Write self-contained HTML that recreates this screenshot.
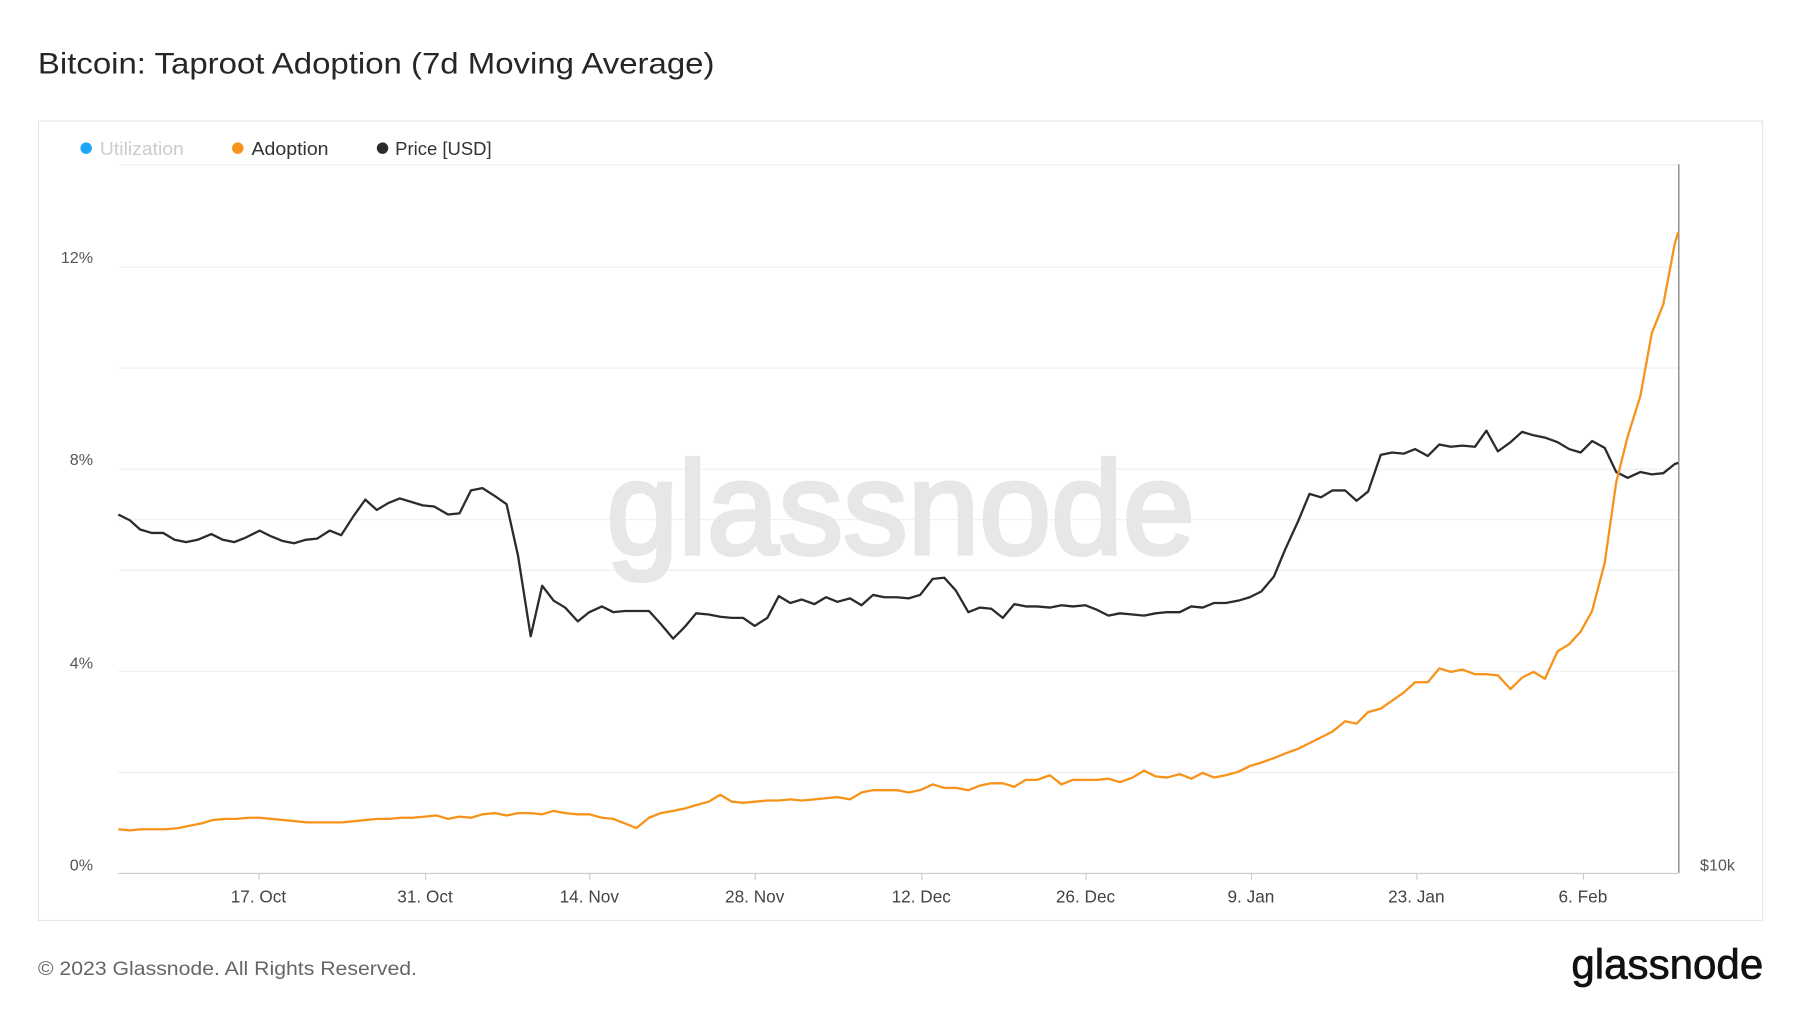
<!DOCTYPE html>
<html><head><meta charset="utf-8"><style>
html,body{margin:0;padding:0;background:#fff;width:1800px;height:1013px;overflow:hidden}
svg{display:block}
text{font-family:"Liberation Sans","DejaVu Sans",sans-serif}
</style></head><body>
<svg width="1800" height="1013" viewBox="0 0 1567 882" preserveAspectRatio="none" xmlns="http://www.w3.org/2000/svg">
<rect width="1567" height="882" fill="#fff"/>
<text x="33" y="64" font-size="26" fill="#262626" textLength="589" lengthAdjust="spacingAndGlyphs">Bitcoin: Taproot Adoption (7d Moving Average)</text>
<rect x="33.5" y="105.5" width="1501" height="696" fill="#fff" stroke="#e6e6e6"/>
<g stroke="#efefef" stroke-width="1">
<line x1="103" y1="143.5" x2="1461" y2="143.5"/>
<line x1="103" y1="232.5" x2="1461" y2="232.5"/>
<line x1="103" y1="320.5" x2="1461" y2="320.5"/>
<line x1="103" y1="408.5" x2="1461" y2="408.5"/>
<line x1="103" y1="452.5" x2="1461" y2="452.5"/>
<line x1="103" y1="496.5" x2="1461" y2="496.5"/>
<line x1="103" y1="584.5" x2="1461" y2="584.5"/>
<line x1="103" y1="672.5" x2="1461" y2="672.5"/>
</g>
<line x1="103" y1="760.5" x2="1461" y2="760.5" stroke="#ccc"/>
<g stroke="#ccc"><line x1="225.5" y1="760" x2="225.5" y2="766"/><line x1="370.5" y1="760" x2="370.5" y2="766"/><line x1="513.5" y1="760" x2="513.5" y2="766"/><line x1="657.5" y1="760" x2="657.5" y2="766"/><line x1="802.5" y1="760" x2="802.5" y2="766"/><line x1="945.5" y1="760" x2="945.5" y2="766"/><line x1="1089.5" y1="760" x2="1089.5" y2="766"/><line x1="1233.5" y1="760" x2="1233.5" y2="766"/><line x1="1378.5" y1="760" x2="1378.5" y2="766"/></g>
<text x="528" y="482" font-size="115" fill="#e7e7e7" stroke="#e7e7e7" stroke-width="3.5" textLength="512" lengthAdjust="spacingAndGlyphs">glassnode</text>
<g font-size="14" fill="#555" text-anchor="end">
<text x="81" y="229">12%</text><text x="81" y="405">8%</text><text x="81" y="582">4%</text><text x="81" y="758">0%</text>
</g>
<text x="1480" y="758" font-size="14" fill="#555">$10k</text>
<g font-size="15" fill="#444" text-anchor="middle">
<text x="225" y="786">17. Oct</text><text x="370" y="786">31. Oct</text><text x="513" y="786">14. Nov</text><text x="657" y="786">28. Nov</text><text x="802" y="786">12. Dec</text><text x="945" y="786">26. Dec</text><text x="1089" y="786">9. Jan</text><text x="1233" y="786">23. Jan</text><text x="1378" y="786">6. Feb</text>
</g>
<line x1="1461.5" y1="143" x2="1461.5" y2="760" stroke="#888" stroke-width="1.2"/>
<g font-size="16">
<circle cx="75" cy="129" r="5" fill="#1fa5f5"/><text x="87" y="135" fill="#ccc" textLength="73" lengthAdjust="spacingAndGlyphs">Utilization</text>
<circle cx="207" cy="129" r="5" fill="#f7931a"/><text x="219" y="135" fill="#333" textLength="67" lengthAdjust="spacingAndGlyphs">Adoption</text>
<circle cx="333" cy="129" r="5" fill="#2b2b2b"/><text x="344" y="135" fill="#333" textLength="84" lengthAdjust="spacingAndGlyphs">Price [USD]</text>
</g>
<polyline fill="none" stroke="#2b2b2b" stroke-width="2" stroke-linejoin="round" points="103,448 113,453 122,461 132,464 142,464 152,470 162,472 172,470 184,465 194,470 204,472 214,468 226,462 236,467 246,471 256,473 266,470 276,469 287,462 297,466 308,449 318,435 328,444 338,438 348,434 358,437 368,440 378,441 390,448 400,447 410,427 420,425 431,432 441,439 451,484 462,554 472,510 482,523 492,529 503,541 513,533 524,528 534,533 544,532 554,532 565,532 575,543 586,556 596,546 606,534 617,535 627,537 637,538 647,538 657,545 668,538 678,519 688,525 698,522 709,526 719,520 729,524 740,521 750,527 760,518 770,520 781,520 791,521 801,518 812,504 822,503 832,514 843,533 853,529 863,530 873,538 883,526 893,528 903,528 914,529 924,527 934,528 945,527 955,531 965,536 975,534 986,535 996,536 1006,534 1016,533 1027,533 1037,528 1047,529 1057,525 1067,525 1078,523 1088,520 1098,515 1109,502 1119,478 1130,454 1140,430 1150,433 1160,427 1171,427 1181,436 1191,428 1202,396 1212,394 1222,395 1232,391 1243,397 1253,387 1263,389 1273,388 1284,389 1294,375 1304,393 1315,385 1325,376 1335,379 1345,381 1356,385 1366,391 1376,394 1386,384 1397,390 1407,411 1417,416 1428,411 1438,413 1448,412 1458,404 1461,403"/>
<polyline fill="none" stroke="#f7931a" stroke-width="2" stroke-linejoin="round" points="103,722 113,723 123,722 134,722 144,722 155,721 165,719 175,717 185,714 196,713 206,713 216,712 226,712 236,713 247,714 257,715 267,716 277,716 288,716 298,716 308,715 318,714 329,713 339,713 349,712 359,712 370,711 380,710 390,713 400,711 410,712 420,709 431,708 441,710 451,708 462,708 472,709 482,706 492,708 503,709 513,709 524,712 534,713 544,717 554,721 565,712 575,708 586,706 596,704 606,701 617,698 627,692 637,698 647,699 657,698 668,697 678,697 688,696 698,697 709,696 719,695 729,694 740,696 750,690 760,688 770,688 781,688 791,690 801,688 812,683 822,686 832,686 843,688 853,684 863,682 873,682 883,685 893,679 903,679 914,675 924,683 934,679 945,679 955,679 965,678 975,681 986,677 996,671 1006,676 1016,677 1027,674 1037,678 1047,673 1057,677 1067,675 1078,672 1088,667 1098,664 1109,660 1119,656 1130,652 1140,647 1150,642 1160,637 1171,628 1181,630 1191,620 1202,617 1212,610 1222,603 1232,594 1243,594 1253,582 1263,585 1273,583 1284,587 1294,587 1304,588 1315,600 1325,590 1335,585 1345,591 1356,567 1366,561 1376,550 1386,532 1397,490 1407,420 1417,380 1428,345 1438,290 1448,265 1458,212 1461,202"/>
<text x="33" y="849" font-size="17" fill="#666" textLength="330" lengthAdjust="spacingAndGlyphs">© 2023 Glassnode. All Rights Reserved.</text>
<text x="1368" y="852" font-size="36" fill="#111" stroke="#111" stroke-width="0.6" textLength="167" lengthAdjust="spacingAndGlyphs">glassnode</text>
</svg>
</body></html>
